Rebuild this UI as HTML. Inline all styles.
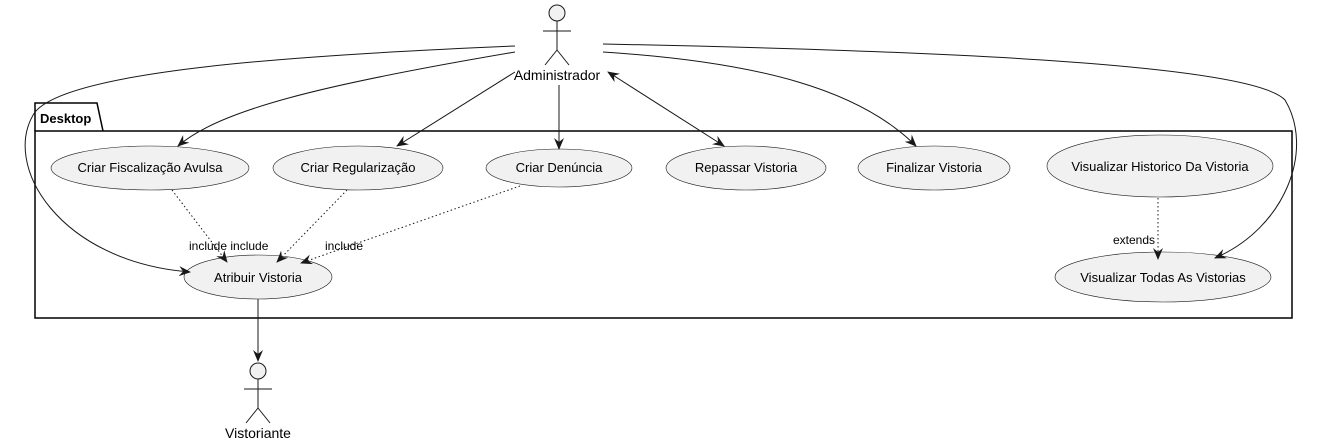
<!DOCTYPE html>
<html><head><meta charset="utf-8"><style>
body{margin:0;background:#fff}
svg{display:block;font-family:"Liberation Sans",sans-serif}
</style></head><body>
<svg width="1327" height="444" viewBox="0 0 1327 444">
<defs>
<marker id="a" viewBox="0 0 12 10" refX="11" refY="5" markerWidth="12" markerHeight="10" orient="auto-start-reverse" markerUnits="userSpaceOnUse">
<path d="M0,0 L12,5 L0,10 L4,5 Z" fill="#181818"/></marker>
</defs>
<!-- package -->
<path d="M35,131 L35,103 L97,103 L103,131" fill="none" stroke="#000" stroke-width="1.5"/>
<rect x="35" y="131" width="1257" height="187" fill="none" stroke="#000" stroke-width="1.5"/>
<text x="40" y="123" font-size="13" font-weight="bold">Desktop</text>
<!-- actors -->
<g stroke="#181818" fill="none" stroke-width="1">
<circle cx="557" cy="13" r="8" fill="#f1f1f1"/>
<path d="M557,21 V50 M543,31 H571 M557,50 L545,65 M557,50 L569,65"/>
<circle cx="258" cy="371" r="8" fill="#f1f1f1"/>
<path d="M258,379 V408 M244,389 H272 M258,408 L246,423 M258,408 L270,423"/>
</g>
<g font-size="14" text-anchor="middle" fill="#000">
<text x="557" y="80">Administrador</text>
<text x="258" y="438">Vistoriante</text>
</g>
<!-- ellipses -->
<g fill="#f1f1f1" stroke="#181818" stroke-width="0.6">
<ellipse cx="150" cy="168" rx="99" ry="22"/>
<ellipse cx="358" cy="168" rx="85" ry="22"/>
<ellipse cx="559" cy="168" rx="73" ry="19"/>
<ellipse cx="746" cy="168" rx="80" ry="22"/>
<ellipse cx="934" cy="168" rx="76" ry="22"/>
<ellipse cx="1160" cy="166" rx="113" ry="31"/>
<ellipse cx="1163" cy="277" rx="108" ry="25"/>
<ellipse cx="258" cy="277" rx="74" ry="22"/>
</g>
<g font-size="13" text-anchor="middle" fill="#000">
<text x="150" y="172">Criar Fiscalização Avulsa</text>
<text x="358" y="172">Criar Regularização</text>
<text x="559" y="172">Criar Denúncia</text>
<text x="746" y="172">Repassar Vistoria</text>
<text x="934" y="172">Finalizar Vistoria</text>
<text x="1160" y="171">Visualizar Historico Da Vistoria</text>
<text x="1163" y="282">Visualizar Todas As Vistorias</text>
<text x="258" y="282">Atribuir Vistoria</text>
</g>
<!-- solid edges -->
<g fill="none" stroke="#181818" stroke-width="1" marker-end="url(#a)">
<path d="M515,46 C300,55 70,70 35,112 C0,165 60,262 190,272"/>
<path d="M515,52 C320,85 220,110 178,146"/>
<path d="M515,72 L397,146"/>
<path d="M559,85 L559,149"/>
<path d="M608,72 L724,146" marker-start="url(#a)"/>
<path d="M603,52 C760,62 860,90 916,146"/>
<path d="M603,44 C900,50 1250,62 1285,100 C1315,150 1285,228 1215,258"/>
<path d="M258,299 L258,361"/>
</g>
<!-- dotted -->
<g fill="none" stroke="#181818" stroke-width="1" stroke-dasharray="1.5,2.5" marker-end="url(#a)">
<path d="M172,190 L227,262"/>
<path d="M347,190 L277,262"/>
<path d="M520,186 L301,263"/>
<path d="M1158,198 L1158,259"/>
</g>
<g font-size="12" fill="#000">
<text x="189" y="250">include include</text>
<text x="325" y="250">include</text>
<text x="1113" y="244">extends</text>
</g>
</svg>
</body></html>
